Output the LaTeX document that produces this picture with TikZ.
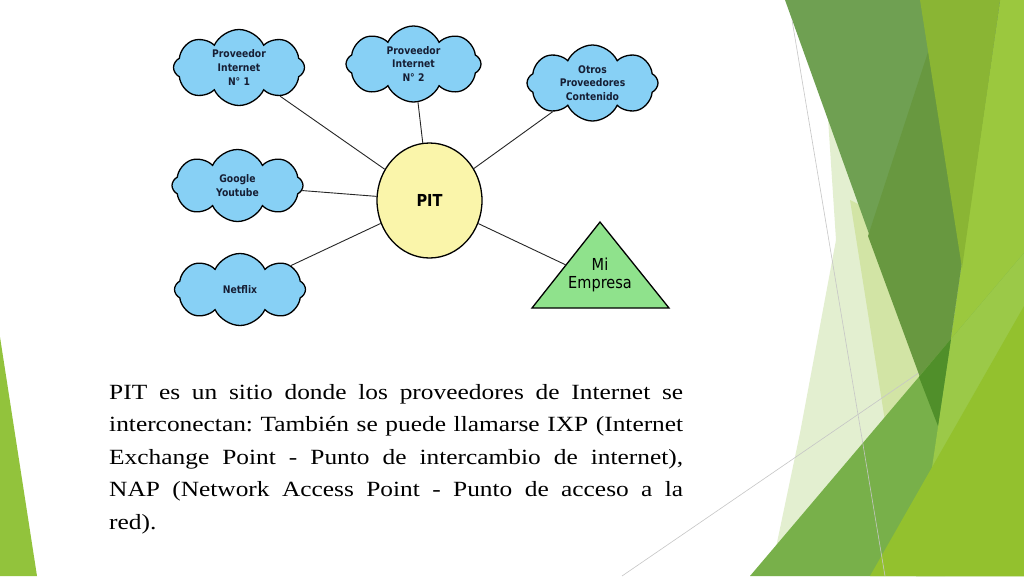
\documentclass[tikz,border=0pt]{standalone}
\usepackage{fontspec}
\setmainfont{Liberation Serif}
\newfontfamily\bodyfont{Liberation Serif}[FakeStretch=1.17]
\newfontfamily\djs{DejaVu Sans}[FakeStretch=0.88]
\usetikzlibrary{shapes.symbols,shapes.geometric}
\definecolor{cloudblue}{RGB}{135,208,245}
\definecolor{pityellow}{RGB}{250,245,170}
\definecolor{trigreen}{RGB}{143,226,140}
\definecolor{labelink}{RGB}{22,30,52}
\definecolor{gMuted}{RGB}{111,160,82}
\definecolor{gInner}{RGB}{104,152,64}
\definecolor{gOlive}{RGB}{138,181,52}
\definecolor{gStrip}{RGB}{155,200,62}
\definecolor{gVPale}{RGB}{227,239,208}
\definecolor{gMPale}{RGB}{210,228,165}
\definecolor{gBand}{RGB}{120,176,74}
\definecolor{gOver}{RGB}{80,143,42}
\definecolor{gBandStrip}{RGB}{155,201,72}
\definecolor{gLime}{RGB}{147,193,46}
\definecolor{gLeft}{RGB}{146,195,60}
\tikzset{
  cloudbox/.style={cloud, cloud puffs=8, cloud puff arc=130, cloud ignores aspect,
    draw=black, line width=1.3pt, fill=cloudblue, text=labelink, align=center,
    inner sep=0pt, minimum width=131pt, minimum height=76pt,
    font=\djs\bfseries\fontsize{10.5}{13.6}\selectfont},
  pitbox/.style={ellipse, draw=black, line width=1.3pt, fill=pityellow,
    minimum width=105pt, minimum height=115pt, inner sep=0pt,
    font=\djs\bfseries\fontsize{16.5}{19}\selectfont},
  link/.style={draw=black!85, line width=0.9pt}
}
\begin{document}
\begin{tikzpicture}[x=1pt,y=-1pt]
\useasboundingbox (0,0) rectangle (1024,576);
\fill[white] (0,0) rectangle (1024,576);
% left sliver
\fill[gLeft] (0,337) -- (37,576) -- (0,576) -- cycle;
% right decoration
\fill[gVPale] (828,118) -- (900,250) -- (945,576) -- (770,576) -- (800,433) -- (836,240) -- cycle;
\fill[gMPale] (850,200) -- (950,250) -- (950,470) -- (888,440) -- cycle;
\draw[gray!45, line width=0.6pt] (622,576) -- (920,372);
\fill[gStrip] (1000,0) -- (1024,0) -- (1024,576) -- (916,576) -- cycle;
\fill[gMuted] (785,0) -- (1000,0) -- (938,426) -- cycle;
\fill[gInner] (945,0) -- (1000,0) -- (938,426) -- (868,236) -- cycle;
\fill[gOlive] (920,0) -- (1000,0) -- (962,268) -- cycle;
\fill[gBand] (750,576) -- (1024,253) -- (1024,576) -- cycle;
\fill[gBandStrip] (951,339) -- (1024,253) -- (1024,576) -- (916,576) -- cycle;
\fill[gOver] (919,377) -- (951,339) -- (938,426) -- cycle;
\fill[gLime] (870,576) -- (1024,306) -- (1024,576) -- cycle;
\draw[gray!45, line width=0.6pt] (792,20) -- (885,576);

% diagram
\node[pitbox] (pit) at (429.5,200.5) {PIT};
\node[cloudbox] (c1) at (239,67.5) {Proveedor\\Internet\\N° 1};
\node[cloudbox, minimum width=135pt] (c2) at (413.5,64) {Proveedor\\Internet\\N° 2};
\node[cloudbox, minimum height=72pt] (c3) at (237.5,185.5) {Google\\Youtube};
\node[cloudbox, minimum height=72pt] (c4) at (240,289.5) {Netflix};
\node[cloudbox] (c5) at (592.5,83) {Otros\\Proveedores\\Contenido};
\fill[trigreen, draw=black, line width=1.3pt, line join=miter] (600,222) -- (669,308) -- (532,308) -- cycle;
\node[align=center, inner sep=0pt, font=\djs\fontsize{16.5}{18.5}\selectfont] (mi) at (600,275) {Mi\\Empresa};
\coordinate (miedge) at (566,265);

\draw[link] (c1) -- (pit);
\draw[link] (c2) -- (pit);
\draw[link] (c3) -- (pit);
\draw[link] (c4) -- (pit);
\draw[link] (c5) -- (pit);
\draw[link] (pit) -- (miedge);

% body text
\node[anchor=base west, inner sep=0pt] (body) at (109,399.3) {\parbox[t]{574pt}{\bodyfont\fontsize{21.7}{32.5}\selectfont\frenchspacing\noindent
\makebox[574pt][s]{PIT es un sitio donde los proveedores de Internet se}\\
\makebox[574pt][s]{interconectan: También se puede llamarse IXP (Internet}\\
\makebox[574pt][s]{Exchange Point - Punto de intercambio de internet),}\\
\makebox[574pt][s]{NAP (Network Access Point - Punto de acceso a la}\\
red).}};
\end{tikzpicture}
\end{document}
